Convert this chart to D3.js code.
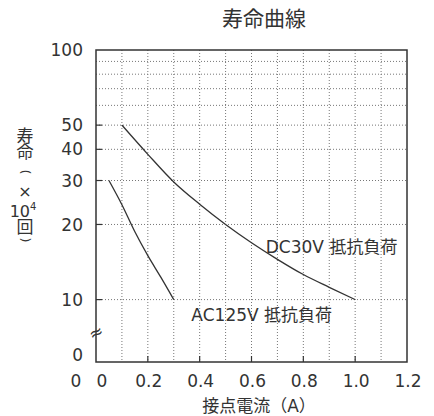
<!DOCTYPE html>
<html>
<head>
<meta charset="utf-8">
<script src="https://cdn.jsdelivr.net/npm/d3@7"></script>
<style>
  html, body { margin: 0; padding: 0; background: #fff; }
  svg { display: block; }
  text { font-family: "DejaVu Sans", "Noto Sans CJK JP", sans-serif; fill: #333; }
</style>
</head>
<body>
<svg id="chart" width="434" height="416"></svg>
<script>
// ---- data ----
const title = "寿命曲線";
const xTitle = "接点電流（A）";
const yTitleTop = "寿命";
const yTitleTimes = "×";
const yTitleMid = "10";
const yTitleSup = "4";
const yTitleBottom = "回";
const xTickValues = [0, 0.2, 0.4, 0.6, 0.8, 1.0, 1.2];
const xTickLabels = ["0", "0.2", "0.4", "0.6", "0.8", "1.0", "1.2"];
const xGridValues = [0.1, 0.2, 0.3, 0.4, 0.5, 0.6, 0.7, 0.8, 0.9, 1.0, 1.1];
const yTickValues = [10, 20, 30, 40, 50, 100];
const yTickLabels = ["10", "20", "30", "40", "50", "100"];
const yGridValues = [10, 20, 30, 40, 50, 60, 70, 80, 90];
const yMarkValues = [10, 20, 30, 40, 50];
const dcCurrent = [0.1, 0.2, 0.3, 0.4, 0.5, 0.6, 0.7, 0.8, 0.9, 1.0];
const dcLife    = [50, 38.2, 29.6, 24.1, 20, 16.9, 14.5, 12.6, 11.2, 10];
const acCurrent = [0.05, 0.1, 0.15, 0.2, 0.25, 0.3];
const acLife    = [30, 24, 18.7, 15, 12.3, 10];
const dcLabel = "DC30V 抵抗負荷";
const acLabel = "AC125V 抵抗負荷";

// ---- layout ----
const svg = d3.select("#chart");
const pL = 96, pR = 407, pT = 50, pB = 362;
const x = d3.scaleLinear().domain([0, 1.2]).range([pL, pR]);
const logBottom = pT + 0.8 * (pB - pT);
const y = d3.scaleLog().domain([10, 100]).range([logBottom, pT]);

const ink = "#333";
const gridCol = "#777";

// grid
const g = svg.append("g");
g.selectAll(".vg").data(xGridValues).join("line")
  .attr("x1", d => x(d)).attr("x2", d => x(d))
  .attr("y1", pT).attr("y2", pB)
  .attr("stroke", gridCol).attr("stroke-width", 1)
  .attr("stroke-dasharray", "1,2");
g.selectAll(".hg").data(yGridValues).join("line")
  .attr("x1", pL).attr("x2", pR)
  .attr("y1", d => y(d)).attr("y2", d => y(d))
  .attr("stroke", gridCol).attr("stroke-width", 1)
  .attr("stroke-dasharray", "1,2");

// inner tick marks
g.selectAll(".yt").data(yMarkValues).join("line")
  .attr("x1", pL).attr("x2", pL + 6)
  .attr("y1", d => y(d)).attr("y2", d => y(d))
  .attr("stroke", ink).attr("stroke-width", 1.2);
g.selectAll(".xt").data(xTickValues.slice(1, -1)).join("line")
  .attr("x1", d => x(d)).attr("x2", d => x(d))
  .attr("y1", pB).attr("y2", pB - 6)
  .attr("stroke", ink).attr("stroke-width", 1.2);

// frame
svg.append("rect")
  .attr("x", pL).attr("y", pT)
  .attr("width", pR - pL).attr("height", pB - pT)
  .attr("fill", "none").attr("stroke", ink).attr("stroke-width", 1.5);

// curves
const line = d3.line().x(d => x(d[0])).y(d => y(d[1])).curve(d3.curveMonotoneX);
svg.append("path").attr("d", line(d3.zip(dcCurrent, dcLife)))
  .attr("fill", "none").attr("stroke", ink).attr("stroke-width", 1.3);
svg.append("path").attr("d", line(d3.zip(acCurrent, acLife)))
  .attr("fill", "none").attr("stroke", ink).attr("stroke-width", 1.3);

// curve labels
svg.append("text").attr("x", x(0.655)).attr("y", y(16.3) + 6)
  .attr("font-size", 17).text(dcLabel);
svg.append("text").attr("x", x(0.368)).attr("y", y(8.65) + 6)
  .attr("font-size", 17).text(acLabel);

// y tick labels
svg.selectAll(".ytl").data(yTickValues).join("text")
  .attr("x", pL - 13).attr("y", d => y(d))
  .attr("dy", "0.36em")
  .attr("text-anchor", "end").attr("font-size", 17)
  .text((d, i) => yTickLabels[i]);
svg.append("text").attr("x", pL - 13).attr("y", pB - 7)
  .attr("dy", "0.36em").attr("text-anchor", "end").attr("font-size", 17).text("0");

// break symbol
svg.append("text").attr("x", pL).attr("y", y(7.4))
  .attr("text-anchor", "middle").attr("dominant-baseline", "central")
  .attr("font-size", 17)
  .attr("transform", `rotate(-25, ${pL}, ${y(7.4)})`)
  .text("≈");

// x tick labels
svg.selectAll(".xtl").data(xTickValues).join("text")
  .attr("x", d => x(d) + (d === 0 ? 6 : 1)).attr("y", pB + 25)
  .attr("text-anchor", "middle").attr("font-size", 17)
  .text((d, i) => xTickLabels[i]);
svg.append("text").attr("x", pL - 20).attr("y", pB + 25)
  .attr("text-anchor", "middle").attr("font-size", 17).text("0");

// x title
svg.append("text").attr("x", 259).attr("y", 412)
  .attr("text-anchor", "middle").attr("font-size", 17).text(xTitle);

// chart title
svg.append("text").attr("x", 264).attr("y", 26)
  .attr("text-anchor", "middle").attr("font-size", 21).text(title);

// vertical y title
const cx = 25;
svg.append("text").attr("x", cx).attr("y", 127)
  .attr("writing-mode", "vertical-rl")
  .style("font-family", "'Noto Sans CJK JP', sans-serif")
  .attr("font-size", 17).attr("letter-spacing", -0.5)
  .text(yTitleTop);
svg.append("text").attr("x", cx).attr("y", 172)
  .attr("text-anchor", "middle").attr("dominant-baseline", "central")
  .attr("font-size", 13)
  .attr("transform", `rotate(90, ${cx}, 172)`)
  .text("(");
svg.append("text").attr("x", cx).attr("y", 191).attr("dy", "0.35em")
  .attr("text-anchor", "middle").attr("font-size", 16)
  .text(yTitleTimes);
const ten = svg.append("text").attr("x", cx - 2).attr("y", 211).attr("dy", "0.35em")
  .attr("text-anchor", "middle").attr("font-size", 16);
ten.append("tspan").text(yTitleMid);
ten.append("tspan").attr("font-size", 10).attr("dy", "-0.7em").text(yTitleSup);
svg.append("text").attr("x", cx).attr("y", 218)
  .attr("writing-mode", "vertical-rl")
  .style("font-family", "'Noto Sans CJK JP', sans-serif")
  .attr("font-size", 17)
  .text(yTitleBottom);
svg.append("text").attr("x", cx).attr("y", 240)
  .attr("text-anchor", "middle").attr("dominant-baseline", "central")
  .attr("font-size", 13)
  .attr("transform", `rotate(90, ${cx}, 240)`)
  .text(")");
</script>
</body>
</html>
